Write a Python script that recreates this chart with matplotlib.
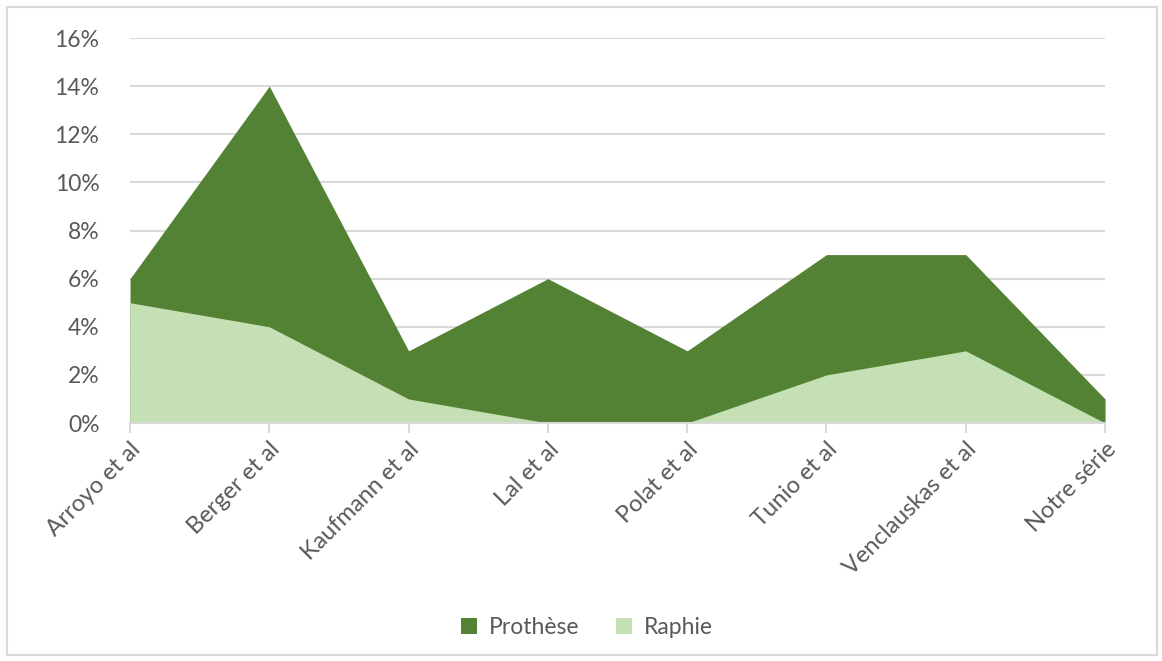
import matplotlib.pyplot as plt
from matplotlib.patches import Rectangle
from matplotlib.ticker import PercentFormatter

plt.rcParams['font.family'] = ['Lato', 'DejaVu Sans']

studies = ["Arroyo et al", "Berger et al", "Kaufmann et al", "Lal et al",
           "Polat et al", "Tunio et al", "Venclauskas et al", "Notre série"]
prothese = [6, 14, 3, 6, 3, 7, 7, 1]
raphie = [5, 4, 1, 0, 0, 2, 3, 0]

dark = "#548235"
light = "#C5E0B4"
grey_txt = "#595959"
grid_c = "#D9D9D9"

fig = plt.figure(figsize=(11.62, 6.61), dpi=100)
ax = fig.add_axes([0.1119, 0.360, 0.8391, 0.5825])

x = range(len(studies))
ax.fill_between(x, 0, prothese, color=dark, linewidth=0, label="Prothèse")
ax.fill_between(x, 0, raphie, color=light, linewidth=0, label="Raphie")

ax.set_xlim(0, len(studies) - 1)
ax.set_ylim(0, 16)
ax.set_yticks(range(0, 17, 2))
ax.yaxis.set_major_formatter(PercentFormatter(decimals=0))
ax.grid(axis='y', color=grid_c, linewidth=1.5)
ax.set_axisbelow(True)

for s in ['top', 'right', 'left']:
    ax.spines[s].set_visible(False)
ax.spines['bottom'].set_color(grid_c)
ax.spines['bottom'].set_linewidth(1.5)

ax.set_xticks(list(x))
ax.set_xticklabels(studies, rotation=45, ha='right', rotation_mode='anchor')
ax.tick_params(axis='x', colors=grid_c, length=7, width=1.5, labelcolor=grey_txt,
               labelsize=17, pad=4)
ax.tick_params(axis='y', length=0, labelcolor=grey_txt, labelsize=16.5, pad=22)

leg = fig.legend(loc='center', bbox_to_anchor=(0.505, 0.051), ncol=2, frameon=False,
                 fontsize=16.5, handlelength=0.7, handleheight=0.7, columnspacing=1.6,
                 handletextpad=0.5)
for t in leg.get_texts():
    t.set_color(grey_txt)

fig.patches.append(Rectangle((0.006, 0.009), 0.99, 0.98, transform=fig.transFigure,
                             fill=False, edgecolor=grid_c, linewidth=1.5))

fig.savefig("out.png", dpi=100)
